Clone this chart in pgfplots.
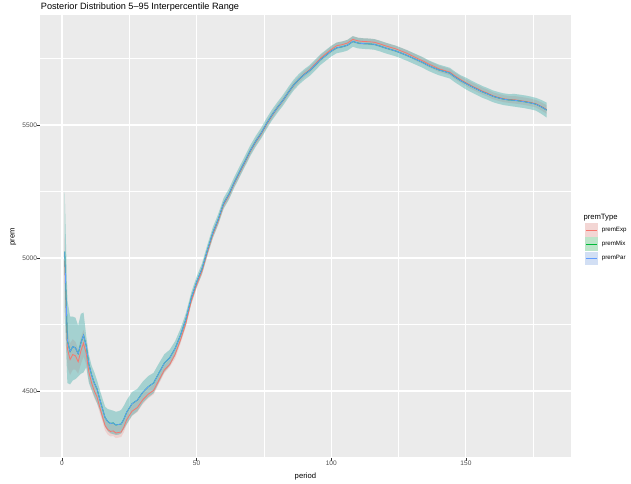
\documentclass[border=0pt]{standalone}
\usepackage{fontspec}
\setmainfont{Liberation Sans}
\usepackage{pgfplots}
\usepackage{pgfplotstable}
\pgfplotsset{compat=1.18}
\usepgfplotslibrary{fillbetween}
\definecolor{panelgray}{HTML}{EBEBEB}
\definecolor{tickgray}{HTML}{333333}
\definecolor{ticklabelgray}{HTML}{4D4D4D}
\definecolor{keygray}{HTML}{F2F2F2}
\definecolor{cExp}{HTML}{F8766D}
\definecolor{cMix}{HTML}{00BA38}
\definecolor{cPar}{HTML}{619CFF}

\pgfplotstableread{
p par parlo parhi exp explo exphi
1 5024 4800 5250 4990 4900 5080
2 4690 4530 4840 4660 4590 4730
3 4648 4525 4780 4618 4560 4680
4 4667 4540 4780 4637 4580 4695
5 4662 4545 4775 4632 4580 4685
6 4640 4555 4745 4610 4565 4655
7 4680 4565 4790 4650 4600 4700
8 4710 4570 4795 4680 4630 4730
9 4670 4590 4705 4640 4600 4680
10 4600 4530 4635 4570 4538 4610
11 4560 4504 4595 4530 4503 4565
12 4530 4479 4570 4500 4473 4535
13 4508 4455 4540 4478 4453 4510
14 4470 4429 4505 4440 4418 4470
15 4435 4395 4472 4405 4386 4432
16 4400 4366 4441 4370 4351 4397
17 4385 4350 4432 4355 4336 4382
18 4378 4341 4429 4348 4329 4375
19 4380 4338 4426 4350 4331 4377
20 4372 4335 4422 4342 4323 4369
21 4374 4336 4424 4344 4325 4371
22 4376 4341 4429 4346 4327 4373
23 4395 4358 4445 4365 4346 4392
24 4420 4375 4465 4392 4373 4419
26 4452 4408 4496 4424 4406 4450
28 4466 4424 4508 4438 4421 4463
30 4495 4455 4535 4467 4451 4491
32 4516 4476 4556 4488 4472 4512
34 4530 4492 4568 4502 4487 4525
36 4568 4532 4604 4541 4527 4563
38 4605 4572 4638 4579 4567 4599
40 4625 4595 4655 4600 4590 4618
42 4660 4633 4687 4638 4622 4654
44 4710 4686 4734 4692 4677 4707
46 4770 4748 4792 4755 4742 4768
48 4850 4830 4870 4838 4826 4850
50 4910 4890 4930 4900 4888 4912
52 4960 4940 4980 4951 4939 4963
54 5030 5010 5050 5022 5010 5034
56 5095 5075 5115 5088 5076 5100
58 5145 5125 5165 5139 5127 5151
60 5205 5185 5225 5200 5188 5212
62 5240 5220 5260 5236 5224 5248
64 5285 5265 5305 5281 5269 5293
66 5325 5305 5345 5321 5309 5333
68 5365 5345 5385 5361 5349 5373
70 5405 5385 5425 5402 5390 5414
72 5440 5420 5460 5437 5425 5449
74 5470 5450 5490 5467 5455 5479
76 5506 5486 5526 5503 5491 5515
78 5538 5518 5558 5535 5523 5547
80 5566 5546 5586 5565 5553 5577
82 5592 5572 5612 5591 5579 5603
84 5622 5602 5642 5621 5609 5633
86 5650 5630 5670 5649 5637 5661
88 5672 5652 5692 5671 5659 5683
90 5690 5670 5710 5692 5680 5704
92 5705 5685 5725 5708 5696 5720
94 5725 5705 5745 5729 5717 5741
96 5746 5726 5766 5751 5739 5763
98 5762 5742 5782 5768 5756 5780
100 5778 5758 5798 5784 5772 5796
102 5790 5770 5810 5798 5786 5810
104 5794 5774 5814 5802 5790 5814
106 5800 5780 5820 5808 5796 5820
108 5814 5794 5834 5822 5810 5834
110 5808 5788 5828 5816 5804 5828
112 5806 5786 5826 5814 5802 5826
114 5805 5785 5825 5813 5801 5825
116 5803 5783 5823 5811 5799 5823
118 5797 5777 5817 5805 5793 5817
120 5790 5770 5810 5798 5786 5810
122 5784 5764 5804 5792 5780 5804
124 5778 5758 5798 5786 5774 5798
126 5770 5750 5790 5778 5766 5790
128 5762 5742 5782 5770 5758 5782
130 5753 5733 5773 5760 5748 5772
132 5744 5724 5764 5750 5738 5762
134 5735 5715 5755 5741 5729 5753
136 5724 5704 5744 5730 5718 5742
138 5715 5695 5735 5721 5709 5733
140 5707 5687 5727 5711 5699 5723
142 5701 5681 5721 5705 5693 5717
144 5695 5675 5715 5699 5687 5711
146 5680 5660 5700 5684 5672 5696
148 5667 5647 5687 5671 5659 5683
150 5656 5634 5678 5659 5646 5672
152 5645 5623 5667 5648 5635 5661
154 5635 5613 5657 5638 5625 5651
156 5625 5603 5647 5628 5615 5641
158 5617 5595 5639 5620 5607 5633
160 5608 5586 5630 5610 5597 5623
162 5602 5580 5624 5604 5591 5617
164 5597 5575 5619 5599 5586 5612
166 5594 5572 5616 5596 5583 5609
168 5593 5569 5617 5595 5581 5609
170 5590 5566 5614 5592 5578 5606
172 5587 5563 5611 5589 5575 5603
174 5583 5559 5607 5585 5571 5599
176 5578 5554 5602 5580 5566 5594
178 5568 5542 5594 5570 5555 5585
180 5556 5528 5584 5558 5542 5574
}\data

\begin{document}
\begin{tikzpicture}
\begin{axis}[
  at={(40bp,25.7bp)}, anchor=south west,
  scale only axis, width=530.7bp, height=442.8bp,
  xmin=-8.17, xmax=188.9, ymin=4247, ymax=5911.7,
  axis background/.style={fill=panelgray},
  axis line style={draw=none},
  xtick={0,50,100,150}, ytick={4500,5000,5500},
  minor xtick={25,75,125,175}, minor ytick={4250,4750,5250,5750},
  grid=both,
  major grid style={white, line width=1.07bp},
  minor grid style={white, line width=0.53bp},
  tick align=outside, tick pos=left,
  major tick length=2.75bp, minor tick length=0pt,
  every tick/.style={tickgray, line width=0.75bp},
  tick label style={font=\fontsize{6.6}{7}\selectfont, text=ticklabelgray},
  xticklabel style={inner sep=0pt, anchor=north},
  yticklabel style={inner sep=0pt, anchor=east},
  /pgf/number format/assume math mode=true,
  /pgf/number format/1000 sep={},
  scaled ticks=false,
]
\addplot[name path=eh, draw=none, forget plot] table[x=p, y=exphi]{\data};
\addplot[name path=el, draw=none, forget plot] table[x=p, y=explo]{\data};
\addplot[fill=cExp, fill opacity=0.22, draw=none, forget plot] fill between[of=eh and el];
\addplot[name path=mh, draw=none, forget plot] table[x=p, y=parhi]{\data};
\addplot[name path=ml, draw=none, forget plot] table[x=p, y=parlo]{\data};
\addplot[fill=cMix, fill opacity=0.22, draw=none, forget plot] fill between[of=mh and ml];
\addplot[name path=ph, draw=none, forget plot] table[x=p, y=parhi]{\data};
\addplot[name path=pl, draw=none, forget plot] table[x=p, y=parlo]{\data};
\addplot[fill=cPar, fill opacity=0.22, draw=none, forget plot] fill between[of=ph and pl];
\addplot[cExp, line width=0.8bp, no marks] table[x=p, y=exp]{\data};
\addplot[cMix, line width=0.8bp, no marks] table[x=p, y=par]{\data};
\addplot[cPar, line width=0.8bp, no marks] table[x=p, y=par]{\data};
\end{axis}
% titles
\node[anchor=base west, inner sep=0pt, font=\fontsize{9.2}{10}\selectfont] at (40.7bp,474.5bp) {Posterior Distribution 5–95 Interpercentile Range};
\node[inner sep=0pt, font=\fontsize{7.7}{9}\selectfont] at (305.4bp,7.5bp) {period};
\node[inner sep=0pt, rotate=90, font=\fontsize{7.7}{9}\selectfont] at (13.3bp,247bp) {prem};
% legend
\node[anchor=base west, inner sep=0pt, font=\fontsize{7.7}{9}\selectfont] at (583.3bp,264.5bp) {premType};
\foreach \yc/\col/\lab in {254/cExp/premExp, 240/cMix/premMix, 225.7/cPar/premPar}{
  \fill[keygray] (585bp,\yc bp-6.7bp) rectangle (598.3bp,\yc bp+6.7bp);
  \fill[\col, opacity=0.22] (585bp,\yc bp-6.7bp) rectangle (598.3bp,\yc bp+6.7bp);
  \draw[\col, line width=0.8bp] (586bp,\yc bp) -- (597.3bp,\yc bp);
  \node[anchor=west, inner sep=0pt, font=\fontsize{6.2}{7}\selectfont] at (601.7bp,\yc bp) {\lab};
}
\pgfresetboundingbox
\path[use as bounding box] (0,0) rectangle (631bp,484bp);
\end{tikzpicture}
\end{document}
